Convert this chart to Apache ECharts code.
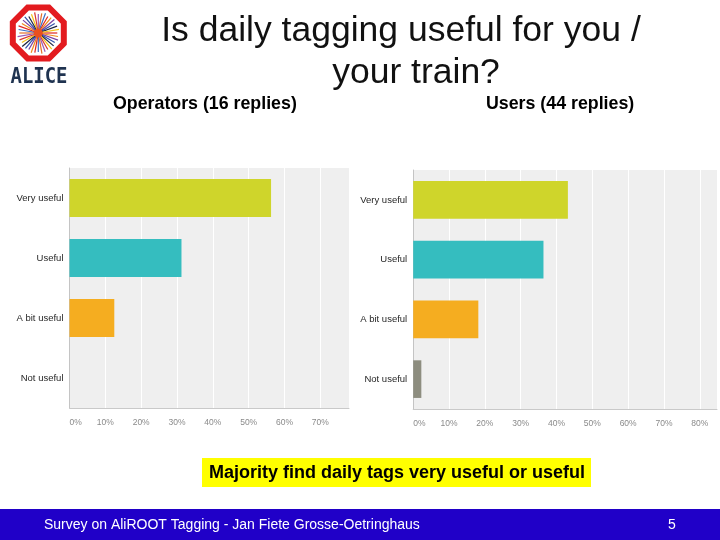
<!DOCTYPE html>
<html>
<head>
<meta charset="utf-8">
<script src="https://cdn.jsdelivr.net/npm/echarts@6/dist/echarts.min.js"></script>
<style>html,body{margin:0;padding:0;background:#fff}#c{width:720px;height:540px}</style>
</head>
<body>
<div id="c"></div>
<script>
// ---- data ----
const categories = ['Very useful', 'Useful', 'A bit useful', 'Not useful'];
const operatorsPct = [56.25, 31.25, 12.5, 0];      // 9,5,2,0 of 16
const usersPct = [43.18, 36.36, 18.18, 2.27];      // 19,16,8,1 of 44
const barColors = ['#cfd52b', '#35bdbf', '#f5ad20', '#8d8d7f'];
const titleLines = ['Is daily tagging useful for you /', 'your train?'];
const panelTitles = ['Operators (16 replies)', 'Users (44 replies)'];
const conclusion = 'Majority find daily tags very useful or useful';
const footerText = 'Survey on AliROOT Tagging - Jan Fiete Grosse-Oetringhaus';
const pageNumber = '5';

const chart = echarts.init(document.getElementById('c'), null, {renderer: 'canvas'});

function mkData(vals) {
  return vals.map((v, i) => ({value: v, itemStyle: {color: barColors[i]}}));
}
const labelFont = {fontFamily: 'Liberation Sans', fontSize: 9.5, color: '#262626'};
function xAxisCfg(idx, max) {
  return {
    type: 'value', gridIndex: idx, min: 0, max: max, interval: 10,
    axisLine: {show: true, lineStyle: {color: '#c9c9c9', width: 1}},
    axisTick: {show: false},
    splitLine: {show: true, lineStyle: {color: '#ffffff', width: 1}},
    axisLabel: {
      fontFamily: 'Liberation Sans', fontSize: 8.5, color: '#8a8a8a', margin: 10,
      alignMinLabel: 'left',
      formatter: v => (v % 10 === 0 ? v + '%' : '')
    }
  };
}
function yAxisCfg(idx) {
  return {
    type: 'category', gridIndex: idx, data: categories, inverse: true,
    axisLine: {show: true, lineStyle: {color: '#c4c4c4', width: 1}},
    axisTick: {show: false},
    splitLine: {show: false},
    axisLabel: Object.assign({margin: 6}, labelFont)
  };
}

// logo rays (decoration)
const rayColors = ['#e0241f', '#f08a1c', '#7b3fa0', '#2f4fa8', '#1d2440', '#f2c31b', '#d9362c', '#9b59b6', '#e5702a', '#3a6fc4'];
const logoCx = 38.3, logoCy = 33;
const logo = [];
const oct = [];
for (let k = 0; k < 8; k++) {
  const a = (22.5 + 45 * k) * Math.PI / 180;
  oct.push([logoCx + 27.6 * Math.cos(a), logoCy + 27.6 * Math.sin(a)]);
}
logo.push({type: 'polygon', shape: {points: oct}, style: {fill: '#ffffff', stroke: '#e31b1f', lineWidth: 6}});
for (let k = 0; k < 36; k++) {
  const a = k * 10 * Math.PI / 180;
  const r = 19 + (k % 3);
  logo.push({type: 'line', shape: {x1: logoCx, y1: logoCy, x2: logoCx + r * Math.cos(a), y2: logoCy + r * Math.sin(a)},
    style: {stroke: rayColors[k % rayColors.length], lineWidth: 1.2}});
}
logo.push({type: 'circle', shape: {cx: logoCx, cy: logoCy, r: 4.5}, style: {fill: '#e8501f'}});
logo.push({type: 'text', x: 39, y: 78, scaleX: 0.9, style: {text: 'ALICE', fontFamily: 'DejaVu Sans Mono', fontWeight: 'bold', fontSize: 21, fill: '#1f3350', align: 'center', verticalAlign: 'middle'}});

const option = {
  backgroundColor: '#ffffff',
  animation: false,
  grid: [
    {left: 69.5, top: 168, width: 279.5, height: 240, show: true, backgroundColor: '#efefef', borderWidth: 0},
    {left: 413.2, top: 170, width: 306.8, height: 239, show: true, backgroundColor: '#efefef', borderWidth: 0}
  ],
  xAxis: [xAxisCfg(0, 78), xAxisCfg(1, 84.8)],
  yAxis: [yAxisCfg(0), yAxisCfg(1)],
  series: [
    {type: 'bar', xAxisIndex: 0, yAxisIndex: 0, data: mkData(operatorsPct), barCategoryGap: '37%'},
    {type: 'bar', xAxisIndex: 1, yAxisIndex: 1, data: mkData(usersPct), barCategoryGap: '37%'}
  ],
  graphic: logo.concat([
    {type: 'text', x: 401, y: 31, style: {text: titleLines[0], fontFamily: 'Liberation Sans', fontSize: 35.5, fill: '#111', align: 'center', verticalAlign: 'middle'}},
    {type: 'text', x: 416, y: 73, style: {text: titleLines[1], fontFamily: 'Liberation Sans', fontSize: 35.5, fill: '#111', align: 'center', verticalAlign: 'middle'}},
    {type: 'text', x: 113, y: 104, style: {text: panelTitles[0], fontFamily: 'Liberation Sans', fontWeight: 'bold', fontSize: 17.8, fill: '#000', align: 'left', verticalAlign: 'middle'}},
    {type: 'text', x: 486, y: 104, style: {text: panelTitles[1], fontFamily: 'Liberation Sans', fontWeight: 'bold', fontSize: 17.8, fill: '#000', align: 'left', verticalAlign: 'middle'}},
    {type: 'rect', shape: {x: 202, y: 458, width: 389, height: 29}, style: {fill: '#ffff00'}},
    {type: 'text', x: 397, y: 473, style: {text: conclusion, fontFamily: 'Liberation Sans', fontWeight: 'bold', fontSize: 18, fill: '#000', align: 'center', verticalAlign: 'middle'}},
    {type: 'rect', shape: {x: 0, y: 509, width: 720, height: 31}, style: {fill: '#2000c8'}},
    {type: 'text', x: 44, y: 525, style: {text: footerText, fontFamily: 'Liberation Sans', fontSize: 14, fill: '#ffffff', align: 'left', verticalAlign: 'middle'}},
    {type: 'text', x: 672, y: 525, style: {text: pageNumber, fontFamily: 'Liberation Sans', fontSize: 14, fill: '#ffffff', align: 'center', verticalAlign: 'middle'}}
  ])
};
chart.setOption(option);
</script>
</body>
</html>
